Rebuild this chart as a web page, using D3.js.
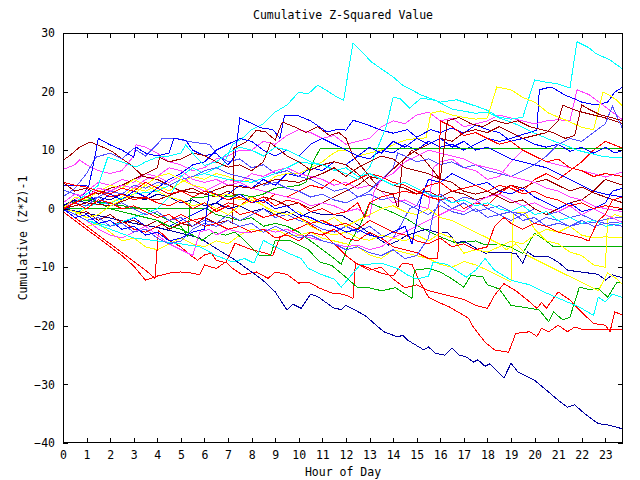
<!DOCTYPE html>
<html><head><meta charset="utf-8">
<script src="https://cdn.jsdelivr.net/npm/d3@7"></script>
<style>body{margin:0;background:#fff}svg{display:block}text{font-family:"DejaVu Sans Mono",monospace;font-size:11.5px;fill:#000}</style>
</head><body><svg id="c" width="640" height="480"></svg>
<script>
// ---- data: each series is [hour, cumulative value] pairs ----
const xTicks = d3.range(0, 24);
const yTicks = [-40, -30, -20, -10, 0, 10, 20, 30];

const rc = [[0,-0.5],[0.5,-2],[1,-3.5],[1.5,-5],[2,-6.5],[2.5,-8],[3,-9.8],[3.5,-12.2],[4,-11.5],[4.5,-11],[5,-10.8],[5.5,-11],[5.8,-11.3],[6,-9.6],[6.5,-10.2],[6.9,-9.1],[7.2,-10.2],[7.6,-11.3],[8.2,-10.8],[8.7,-11.9],[9,-10.8],[9.5,-11.2],[10,-12.7],[10.4,-12.5],[10.9,-13.6],[11.4,-14.4],[11.9,-14.6],[12.3,-15.3],[12.4,-9.3],[12.9,-10],[13.5,-11],[14,-11.5],[14.4,-9.3],[14.8,-9.5],[15.1,-12.2],[15.5,-15.1],[16,-16.1],[16.4,-16.8],[17.2,-18.7],[17.4,-20.2],[17.9,-22.8],[18.3,-24.1],[18.9,-24.5],[19.2,-21.3],[19.8,-21],[20.1,-21.8],[20.3,-20.4],[20.6,-21],[21,-19.9],[21.4,-21],[21.7,-20.2],[22,-20.6],[23.75,-20.6]];
const gm = [[0,0],[6.1,0],[6.5,-1],[7,-1.5],[7.5,-2],[8,-1.5],[8.5,-3],[9,-2.5],[9.5,-3],[10,-4],[10.5,-5.5],[11,-7],[11.5,-8.5],[11.8,-9.5],[12.1,-6.2],[12.6,-2.8],[13,1],[13.3,0.5],[13.9,-0.5],[14.6,-1.8],[15.2,-3.3],[16,-4.8],[16.7,-5.9],[17.5,-5.5],[17.9,-6.2],[18.5,-6],[19,-6.6],[19.5,-7.6],[20,-4.2],[20.5,-5.5],[20.8,-6.5],[23.75,-6.5]];
const b1 = [[0,0],[0.5,-1],[1,-0.5],[1.5,-2],[2,-1],[2.5,-2.5],[3,-1.5],[3.5,-3],[4,-2],[4.5,-3],[5,-2],[5.5,-1],[6,0],[6.5,1],[7,2.5],[7.5,4],[8,3.5],[8.5,5],[9,4],[9.5,6],[10,5.5],[10.5,7],[11,6.5],[11.5,8],[12,7.5],[12.5,9],[13,8.5],[13.5,10],[14,9.5],[14.5,11],[15,10],[15.5,11.5],[16,10.5],[16.5,11],[17,10],[17.5,11],[18,12],[18.5,11.5],[19,12],[19.6,12.8],[20.1,13.4],[20.2,20.3],[20.7,20.8],[21.3,19.4],[22,18.2],[22.6,17.7],[23.1,18.2],[23.4,19.9],[23.75,20.8]];
const m1 = [[0,6.7],[0.5,7.5],[0.7,8.3],[1,7.5],[1.5,6.5],[2,6],[2.5,6.5],[3,9],[3.1,10.9],[3.5,10.5],[4,9.5],[4.5,8],[5,7.5],[5.5,6.5],[6,7],[6.5,8.5],[7,9],[7.5,10],[8,10],[8.5,11.5],[9,11],[9.5,12.5],[10,13.5],[10.5,13],[11,12],[11.5,12.5],[12,11],[12.5,11.5],[13,12],[13.5,14],[14,15],[14.5,14.5],[15,16],[15.5,16.5],[16,15],[16.5,15.5],[17,14],[17.5,14.5],[18,15],[18.5,16],[19,15.5],[19.5,15],[20,14.5],[20.5,15],[21,15.2],[21.5,15],[21.8,20.3],[22.3,19.5],[22.8,18],[23.3,16.5],[23.75,15.1]];
const c1 = [[0,0],[0.5,-1],[1,0.5],[2,1],[3,2.5],[4,3],[5,5],[6,6],[6.8,7.5],[7.2,11],[7.6,12],[8,13.5],[8.5,14.5],[9,16.5],[9.5,17.7],[10,19.9],[10.4,19.6],[10.8,21.1],[11.1,20.4],[11.6,19.1],[11.9,18.5],[12.3,28.3],[13.1,25],[14,22.5],[14.4,21.1],[15.2,19.4],[16,18.2],[16.7,18.6],[17.6,17.4],[18,16.8],[18.5,15.6],[19,15.3],[19.5,15.6],[20,22],[20.5,21.6],[21,21.3],[21.5,20.6],[21.8,28.5],[22.3,27.5],[22.6,26.5],[23.2,25.4],[23.75,23.8]];
const dr1 = [[0,8.3],[0.3,9.1],[0.7,10.5],[1.15,11.4],[1.7,10.5],[2.1,9.7],[2.9,7.4],[3.4,5.5],[4,5],[4.5,4],[5,3],[5.5,3.5],[6,2.5],[6.5,2],[7,3],[7.5,2],[8,1],[8.5,2],[9,1.5],[9.5,0.5],[10,1],[10.5,0],[11,1],[11.5,2],[12,3],[12.5,4],[13,5.5],[13.5,5],[14,4],[14.5,3.5],[15,2.5],[15.5,3],[16,2],[16.5,3],[17,2.5],[17.5,1.5],[18,2],[18.5,3],[19,4],[19.5,3.5],[20,4.5],[20.5,5],[21,4],[21.5,3],[22,3.7],[22.5,2.7],[23,2],[23.75,1]];
const y1 = [[0,0],[0.5,-1],[1,0],[1.5,1.5],[2,1],[2.5,2],[3,3.5],[3.5,3],[4,4],[4.5,3],[5,4.5],[5.5,5.5],[6,5],[6.5,6],[7,5.5],[7.5,4.5],[8,5],[8.5,4],[9,5.5],[9.5,6],[10,6],[10.5,7],[11,8],[11.3,9],[11.7,10],[12,10],[12.5,9],[13,9.5],[13.5,10],[14,10.9],[14.5,11.7],[15,12],[15.4,12.1],[15.6,16.3],[16,16.7],[16.5,16],[17,15.6],[17.5,15.3],[18,15.5],[18.2,18.2],[18.4,20.8],[19,20.3],[19.5,19],[20,18.2],[20.6,16.3],[21.4,15],[22,13.9],[22.5,13.5],[22.9,19.9],[23.2,19.3],[23.5,18.5],[23.75,17.4]];
const nv1 = [[0,0],[1,-0.8],[2,-1.6],[3,-2.5],[4,-3.2],[5,-4.2],[5.8,-5],[6.5,-6.8],[7.2,-8.5],[8,-10.8],[8.5,-12.3],[9,-14.2],[9.5,-17.3],[9.75,-16.3],[10.1,-17],[10.5,-14.6],[10.8,-15],[11.5,-17],[11.8,-17.2],[12,-16.5],[12.8,-18.2],[13.6,-21],[14.2,-21.9],[14.4,-21.6],[14.6,-22.4],[15.3,-24.1],[15.5,-23.6],[15.8,-24.7],[16.2,-25],[16.5,-23.8],[16.8,-25],[17.1,-25.3],[17.4,-26.2],[17.6,-25.8],[17.9,-26.9],[18.1,-26.5],[18.7,-28.9],[19,-26.4],[19.3,-27.9],[20,-29.3],[20.6,-31.3],[21,-32.7],[21.4,-33.9],[21.7,-33.5],[22.1,-34.9],[22.7,-36.7],[23.1,-36.9],[23.75,-37.6]];
const lb1 = [[0,2],[0.5,3.5],[1,6],[1.4,8.8],[2,9.5],[2.5,8.5],[3,10.3],[3.5,9],[4,11],[4.2,12],[4.8,12],[5.3,11.5],[5.8,11.2],[6.2,11],[6.6,9],[7,8],[7.5,8.5],[8,7],[8.5,7.5],[9,6],[9.5,6.5],[10,5.5],[10.5,5],[11,4],[11.5,3],[12,3.5],[12.5,2],[13,2.5],[13.5,1.5],[14,2],[14.5,1],[15,0],[15.5,-1],[16,0.5],[16.5,-0.5],[17,-1],[17.5,0],[18,-1.5],[18.5,-1],[19,-2],[19.5,-1],[20,-2.5],[20.5,-1.5],[21,-2],[21.5,-3],[22,-2.5],[22.5,-2.4],[23,-1.8],[23.75,-1.4]];
const r1 = [[0,0],[0.5,-1],[1,-2],[1.5,-1.5],[2,-3],[2.5,-2],[3,-3.5],[3.5,-4],[4,-3],[4.5,-2],[5,-1],[5.5,-2],[6,-1.5],[6.5,0],[7,1],[7.5,0.5],[8,2],[8.5,1],[9,2.5],[9.5,2],[10,3],[10.5,4],[11,3.5],[11.5,5],[12,4],[12.5,5],[13,6],[13.5,5.5],[14,4.5],[14.5,4],[15,3],[15.5,2],[16,1.5],[16.5,2],[17,0],[17.5,1],[18,0.5],[18.5,2.5],[19,4],[19.5,3],[20,5],[20.5,6],[21,5],[21.5,6.5],[22,8],[22.5,10],[23,11.5],[23.75,10.3]];
const g10 = [[0,0],[0.3,1],[0.8,1.5],[1.5,1.2],[2.5,0.5],[3.5,0],[4,-1],[4.5,-2],[5,-3],[5.3,-4.8],[5.4,1.8],[6,2],[6.5,2.5],[7,2],[7.5,2.5],[8,2],[8.5,2.5],[9,3.5],[9.5,3.7],[10,4],[10.3,4.5],[10.6,8],[10.9,10.2],[23.75,10.2]];
const b2 = [[0,-0.5],[0.3,0.5],[0.8,2],[1.1,4],[1.3,7.8],[1.5,12],[2,10.9],[2.5,10],[3,8.8],[3.1,10.5],[3.5,9.5],[4,9],[4.5,9.5],[4.7,12],[5.2,11.7],[5.5,10],[6,9],[6.5,9.5],[7,7.5],[7.3,9],[7.5,15.5],[8.4,13.8],[8.9,13.5],[9.2,12],[9.4,16],[9.9,16],[10.5,15],[11.2,13.1],[11.7,13.6],[12,13.4],[12.3,15.1],[12.8,14.5],[13.5,13.4],[14,12.9],[14.6,13.5],[15,12.2],[15.6,13.5],[16,13],[16.5,13.8],[17,12.9],[17.5,14.3],[18,13.5],[18.5,13],[19,11.5],[19.5,12],[20,11],[20.5,10.5],[21,11],[21.5,9.8],[22,10.5],[22.5,9.5],[23,10.5],[23.4,9.5],[23.75,10]];
const m2 = [[0,0],[0.5,1.5],[1,3],[1.5,4.5],[2,4],[2.5,5],[3,4.5],[3.5,6],[4,5.5],[4.5,4.5],[5,5.7],[5.5,4],[6,3],[6.5,4],[7,5],[7.5,4.5],[8,6],[8.5,5.5],[9,6.5],[9.5,7],[10,6],[10.5,5.5],[11,5],[11.5,4],[12,4.5],[12.5,3.5],[13,4],[13.5,3],[14,1],[14.5,1.5],[15,0.5],[15.5,0],[15.7,7],[16,8],[16.5,8.5],[17,7],[17.5,6.5],[18,5],[18.5,5.5],[19,8],[19.5,10],[20,9],[20.5,8],[21,7.5],[21.5,7],[22,6.5],[22.5,6],[23,5.4],[23.75,6.3]];
const c2 = [[0,0],[1,-2],[2,-3],[3,-1.5],[4,0],[4.5,2],[5,5.5],[5.5,7],[6,6],[7,5],[8,4.5],[9,6],[10,8],[11,7.5],[12,6],[12.5,5],[13,7],[13.7,13.9],[14,19],[14.3,18.8],[14.7,17.2],[15.2,18.9],[15.8,18.5],[16.5,17],[17.5,16.3],[18,16.5],[18.5,15.5],[19,14.8],[19.5,13.9],[20,12.9],[20.7,11.7],[21.2,11],[21.8,10],[22.3,9.5],[22.8,9],[23.2,8.8],[23.75,8.8]];
const dr2 = [[0,0],[0.5,-1],[1,-0.5],[1.5,-2],[2,-1],[2.5,-2.5],[3,-2],[3.5,-3],[4,-2],[4.5,-3.5],[5,-2.5],[5.5,-3],[6,-1.5],[6.5,-2.5],[7,-2],[7.2,-2.5],[7.25,10.3],[7.8,11.5],[8.2,13.4],[8.6,13.1],[9,11.7],[9.3,14.8],[9.8,14],[10.3,13],[10.8,14],[11.3,12.5],[11.7,13],[12,12],[12.3,9],[12.7,7],[13,5.5],[13.3,4],[13.8,6],[14.2,7.5],[14.6,9],[15,10],[15.5,11],[16,12],[16.5,11.5],[17,13],[17.5,13.5],[18,13],[18.5,14],[19,13],[19.5,12],[20,12.5],[20.5,13],[21,15],[21.2,17.7],[21.6,17],[22,16.5],[22.5,16],[23,15.5],[23.75,14.5]];
const y2 = [[0,0],[0.5,-1.5],[1,-3],[1.5,-2.5],[2,-4],[2.5,-5.5],[3,-5],[3.5,-6.5],[4,-7],[4.5,-6],[5,-5],[5.5,-6],[6,-6.5],[6.5,-5.5],[7,-6],[7.5,-4.5],[8,-3.5],[8.5,-4],[9,-3.5],[9.5,-4.5],[10,-4.5],[10.5,-4],[11,-5],[11.5,-5.5],[12,-6],[12.5,-6.5],[13,-7.9],[13.5,-8.5],[14,-7],[14.5,-7.5],[15,-8],[15.5,-8.5],[16,-9.5],[16.5,-10],[17,-9],[17.5,-9.6],[18,-10.5],[18.5,-11.5],[19,-12.5],[19.1,-0.6],[19.6,-0.6],[20,-3.5],[20.5,-5.5],[21,-6],[21.5,-7.4],[22,-8],[22.5,-9.6],[23,-10],[23.1,-1.9],[23.4,-1],[23.75,-1.5]];
const nv2 = [[0,0.5],[0.5,1.5],[1,1],[1.5,2],[2,1.5],[2.5,2.5],[3,2],[3.5,1.5],[4,2.5],[4.5,2],[5,1],[5.5,1.5],[6,0.5],[6.5,1],[7,0],[7.5,0.5],[8,-0.5],[8.5,0],[9,-1],[9.5,-0.5],[10,-1.5],[10.5,-0.5],[11,-1],[11.8,-1.1],[12.4,-2.5],[13,-4.2],[13.8,-6.2],[14.2,-5.5],[14.6,-4.5],[15.4,-3.5],[16,-4.2],[16.3,-4],[16.7,-5.9],[17,-5.5],[17.4,-6.5],[17.9,-7.6],[18.3,-7.4],[19.2,-7.6],[19.5,-9.3],[19.7,-7.4],[20,-8.2],[20.6,-8.2],[21,-9.1],[21.4,-10.5],[22.7,-11.2],[23,-12.2],[23.3,-11.3],[23.75,-11.8]];
const lb2 = [[0,3.2],[0.5,2.5],[1,1.5],[1.5,2],[2,0.5],[2.5,1],[3,0],[3.5,-1],[4,-0.5],[4.5,-2],[5,-1.5],[5.5,-3],[6,-2],[6.5,-2.5],[7,-1],[7.5,-2],[8,-1],[8.5,0],[9,-1.5],[9.5,-1],[10,-2],[10.5,-2.5],[11,-3.5],[11.5,-4],[12,-3],[12.5,-4],[13,-3],[13.5,-4.5],[14,-5],[14.3,-3],[14.7,0],[15,0.5],[15.3,3],[15.7,2],[16,2.5],[16.5,1],[17,2],[17.5,1.5],[18,0],[18.5,0.5],[19,-0.5],[19.5,-1],[20,0],[20.5,-1],[21,-0.5],[21.5,-1.5],[22,-1],[22.5,-2],[23,-2.5],[23.75,-2.2]];
const rd = [[0,0],[0.5,-1.5],[1,-3],[1.5,-4.5],[2,-6],[2.5,-7.5],[3,-9],[3.5,-10.5],[3.9,-11.9],[4.05,-3.7],[4.5,-5.4],[5,-6.5],[5.3,-7.6],[5.7,-8.8],[6,-7.9],[6.3,-7.6],[6.5,-8.8],[6.9,-9.2],[7.3,-5.9],[8,-7],[8.5,-7.5],[8.9,-8],[9.2,-4.9],[9.6,-4],[10.1,-3.1],[10.4,-2.5],[11,-4],[11.5,-6],[12,-8],[12.5,-9.5],[13,-10.5],[13.5,-10],[14,-12],[14.5,-13.5],[15,-13],[15.5,-14],[16,-14.5],[17,-15.5],[17.5,-16.5],[18,-17],[18.3,-14.8],[18.7,-12.8],[19.2,-14],[19.7,-15.6],[20.1,-17],[20.3,-16],[20.5,-17],[21,-14.2],[21.5,-15.6],[21.9,-17.3],[22.5,-19.6],[23,-19.9],[23.2,-21],[23.4,-17.6],[23.75,-18.2]];
const gl = [[0,0],[0.5,1],[1,2],[1.5,1],[2,0],[2.5,-0.5],[3,-1],[3.5,-1.5],[4,-2],[4.5,-3],[5,-3.5],[5.5,-4.5],[5.9,-5.4],[6.4,-4],[6.9,-4.5],[7.3,-4],[7.7,-5.4],[8.3,-7.9],[8.8,-8],[9,-5.4],[9.6,-5.4],[10.4,-7],[10.9,-9.1],[11.4,-9.7],[12,-11.7],[12.5,-13.5],[13,-13.5],[13.5,-14],[14.1,-13.5],[14.8,-15.3],[14.9,-10.5],[15.5,-10.2],[16,-10.8],[16.5,-12],[17,-13.4],[17.3,-11.4],[17.8,-11.6],[18,-13],[18.5,-13.7],[19,-16.5],[19.8,-17],[20.2,-17.3],[20.6,-19.3],[20.8,-17.6],[21.2,-19],[21.5,-18.5],[21.9,-13.4],[22.3,-13.8],[22.7,-13.6],[23.1,-15.1],[23.5,-12.5],[23.75,-12.8]];
const b3 = [[0,4],[1,4],[1.2,2],[1.5,1],[2,2.5],[2.5,1.5],[3,3],[3.5,2],[4,3.5],[4.5,5],[5,6],[5.5,7.5],[6,8],[6.5,10],[7,11],[7.5,12],[8,11.5],[8.5,10],[9,9],[9.5,10],[10,9],[10.5,11],[11,12],[11.5,11],[12,10],[12.5,9],[13,10.5],[13.5,9.5],[14,11.5],[14.5,10.5],[15,12],[15.5,11],[16,12],[16.5,10.5],[17,11.5],[17.5,10],[18,10.5],[18.5,9.5],[19,8.5],[19.5,8],[20,7.5],[20.5,7],[21,6],[21.5,5],[22,4],[22.5,3],[23,2.5],[23.75,2]];
const m3 = [[0,0],[0.5,-1],[1,-2],[1.5,-3.5],[2,-4.5],[2.5,-5],[3,-4],[3.5,-3],[4,-4.5],[4.5,-6],[5,-7],[5.5,-8],[5.8,-4],[6.2,-3.5],[6.5,-4.5],[7,-3.5],[7.5,-4],[8,-4],[8.5,-3.5],[9,-4],[9.5,-3.5],[10,-4.5],[10.5,-5],[11,-5.5],[11.5,-6],[12,-6.5],[12.5,-6.2],[13,-7],[13.5,-6.5],[14,-5],[14.5,-4],[15,-3],[15.5,-2],[16,-1],[16.5,0],[17,-0.5],[17.5,1],[18,2],[18.5,2.5],[19,1.5],[19.5,0.5],[20,1],[20.5,0],[21,-0.5],[21.5,0.5],[22,-1],[22.5,0],[23,-1],[23.75,-2.4]];
const c3 = [[0,0],[1,-2],[2,-3.5],[3,-5],[4,-5.5],[5,-6],[5.8,-6.5],[6.5,-8],[7.2,-9.1],[7.7,-8.5],[8.1,-9.3],[8.5,-5.4],[9,-6.5],[9.5,-7.5],[10.1,-8.5],[10.4,-10.2],[11,-11.3],[11.5,-12],[11.8,-13.4],[12.6,-9.6],[13.5,-9.3],[14.2,-10.2],[14.6,-11.3],[15,-12],[15.5,-11.5],[15.7,-9.1],[16.3,-9.5],[17.1,-11.7],[17.5,-10.5],[17.9,-8.5],[18.3,-10.5],[19,-12.2],[19.8,-13],[20.5,-14.4],[21.2,-15.6],[21.9,-16.8],[22.5,-18.2],[22.7,-15.1],[23,-15.9],[23.3,-14.6],[23.75,-15.2]];
const dr3 = [[0,4.5],[0.5,3],[1,3.5],[1.5,2.5],[2,3.5],[2.5,4],[3,5],[3.5,6],[4,7],[4.1,8.8],[4.5,8],[5,8.5],[5.5,9.5],[6,9.1],[6.5,8],[7,7.1],[7.5,7.5],[8,6.5],[8.5,8],[8.8,11.2],[9.2,10],[9.5,9],[10,8],[10.5,6.6],[11,7.5],[11.5,8],[12,7.5],[12.5,6],[13,4],[13.5,3],[14,2.5],[14.2,0],[14.4,8],[14.8,10],[15.2,9],[15.6,7],[16,5],[16.5,4.5],[17,3],[17.5,2.5],[18,3],[18.5,2],[19,1],[19.5,1.5],[20,0],[20.5,-1],[21,0],[21.5,1],[22,1.5],[22.5,3],[23,5],[23.75,4]];
const y3 = [[0,0],[0.5,2],[1,1.5],[1.5,3],[2,4],[2.5,3.5],[3,5],[3.5,4],[4,3],[4.5,2],[5,1.5],[5.5,0.5],[6,1],[6.5,0],[7,-1],[7.5,0.5],[8,1.5],[8.5,0.5],[9,-1],[9.5,-2],[10,-1.5],[10.5,-3],[11,-4],[11.5,-4.5],[12,-4],[12.5,-5],[13,-5.4],[13.5,-4.5],[14,-5],[14.5,-5.5],[15,-4.5],[15.5,-5.5],[16,-4.2],[16.5,-5],[17,-7.6],[17.5,-7],[18,-7.4],[18.5,-6.5],[19,-5.5],[19.5,-6],[20,-4.5],[20.5,-3.5],[21,-4],[21.5,-3],[22,-4.5],[22.5,-5],[23,-4.8],[23.75,-5]];
const lb3 = [[0,0],[0.5,1],[1,0.5],[1.5,2],[2,3],[2.5,2.5],[3,4],[3.5,3.5],[4,4.5],[4.5,4],[5,5],[5.5,5.5],[6,6.5],[6.5,7],[7,6],[7.5,5.5],[8,5],[8.5,4],[9,4.5],[9.5,3.5],[10,3],[10.5,2],[11,2.5],[11.5,1.5],[12,1],[12.5,2],[13,3],[13.5,5],[14,7],[14.2,9.5],[14.5,9],[15,8],[15.5,8.5],[16,7.5],[16.5,8],[17,7],[17.5,7.5],[18,6.5],[18.5,6],[19,5.5],[19.5,6.5],[20,7.5],[20.5,9],[21,11],[21.5,12],[22,11.5],[22.5,13],[23,14.5],[23.3,17.5],[23.75,13.5]];
const r2 = [[0,0],[0.5,1],[1,0],[1.5,1.5],[2,1],[2.5,0],[3,0.5],[3.5,-0.5],[4,-1.5],[4.5,-1],[5,-2.5],[5.5,-2],[6,-3],[6.5,-2.5],[7,-3.5],[7.5,-3],[8,-4],[8.5,-3.5],[9,-5],[9.5,-4.5],[10,-5.5],[10.5,-4],[11,-4.5],[11.5,-3.5],[12,-5],[12.5,-5.5],[13,-4],[13.5,-5],[14,-6.5],[14.5,-7],[15,-7.5],[15.5,-8.5],[15.9,-8.5],[16,15],[16.5,14],[17,12.5],[17.5,13],[18,12],[18.5,11],[19,11.5],[19.5,10],[20,9],[20.5,8],[21,8.5],[21.5,7],[22,6.5],[22.5,5.5],[23,6],[23.75,5.5]];
const m4 = [[0,1],[0.5,2.5],[1,2],[1.5,3.5],[2,3],[2.5,4],[3,3.5],[3.5,5],[4,5.5],[4.5,7],[5,6.5],[5.5,5],[6,4.5],[6.5,5],[7,4],[7.5,4.5],[8,3.5],[8.5,3],[9,2.5],[9.5,2],[10,1.5],[10.5,0.5],[11,1],[11.5,0.5],[12,-0.5],[12.5,0],[13,-1.5],[13.2,3],[13.5,5],[14,6],[14.5,8],[15,9],[15.5,10],[16,9.5],[16.5,9],[17,8.5],[17.5,7.5],[18,7],[18.5,6.5],[19,5.5],[19.5,5],[20,4.5],[20.5,3.5],[21,3],[21.5,2],[22,1.5],[22.5,0.5],[23,0],[23.75,-0.5]];
const c4 = [[0,0],[0.5,1],[1,2.5],[1.5,4],[1.9,8.8],[2.5,8],[3.1,7.1],[3.5,8],[4,8.8],[4.5,9],[5,9.5],[5.2,10.9],[5.6,9],[6,7.4],[6.5,8],[7,9.5],[7.5,10.5],[8,10],[8.5,9],[9,10.5],[9.5,10],[10,9],[10.5,8],[11,7.5],[11.5,6.5],[12,7],[12.5,5.5],[13,6],[13.5,5],[14,4],[14.5,4.5],[15,3.5],[15.5,2.5],[16,2],[16.5,1],[17,1.5],[17.5,0.5],[18,1],[18.5,0],[19,-0.5],[19.5,0.5],[20,-1],[20.5,-0.5],[21,-2],[21.5,-1.5],[22,-2.5],[22.5,-2],[23,-3],[23.75,-2.5]];
const dr4 = [[0,0],[1,1],[2,0.5],[3,2],[4,1.5],[5,3],[6,2.5],[7,4],[8,3.5],[9,5],[10,4.5],[11,6],[11.5,7],[12,5.5],[12.5,7],[13,8],[13.5,9],[14,8.5],[14.5,7],[15,6.5],[15.5,6],[16,5],[16.3,15],[16.8,15.6],[17.3,14.5],[17.8,14],[18.3,15.1],[18.8,14.5],[19.3,15],[19.8,14],[20.3,13.5],[20.8,13],[21.3,12],[21.7,12.5],[22,17.7],[22.3,17],[22.8,16],[23.3,15.5],[23.75,15]];
const y4 = [[0,0],[0.5,-0.5],[1,-1.5],[1.5,-1],[2,0.5],[2.5,1.5],[3,2.5],[3.5,4],[4,5.5],[4.5,6],[5,5],[5.5,4],[6,3.5],[6.5,2],[7,2.5],[7.5,1.5],[8,2],[8.5,0.5],[9,-0.5],[9.5,-1],[10,-0.5],[10.5,-2],[11,-2.5],[11.5,-1.5],[12,-3],[12.5,-2],[13,-1],[13.5,0],[14,0.5],[14.5,-0.5],[15,-1],[15.5,0],[16,-1.5],[16.5,-2],[17,-3],[17.5,-4],[18,-5],[18.5,-6],[18.8,-7],[19.2,-6],[19.7,-8],[20.2,-9],[20.7,-10],[21.2,-11],[21.7,-12],[22.2,-13],[22.7,-14],[23.1,-11],[23.5,-12],[23.75,-13]];
const lb4 = [[0,0],[0.5,-1],[1,-2],[1.5,-1.5],[2,-3],[2.5,-2.5],[3,-4],[3.5,-3.5],[4,-5],[4.5,-6],[5,-5.5],[5.5,-3.5],[6,-2.5],[6.5,-3],[7,-2],[7.5,-3],[8,-2.5],[8.5,-4],[9,-3],[9.5,-4],[10,-5],[10.5,-4.5],[11,-5.5],[11.5,-6],[12,-7],[12.5,-6.5],[13,-7.5],[13.5,-8],[14,-7],[14.5,-8.5],[15,-8],[15.5,-5],[15.7,-1],[16,1.5],[16.5,0],[17,1],[17.5,-0.5],[18,0],[18.5,-1],[19,-0.5],[19.5,-2],[20,-1.5],[20.5,-3],[21,-2.5],[21.5,-3],[22,-2],[22.5,-3],[23,-2.5],[23.75,-3]];
const r3 = [[0,4.5],[0.5,4],[1,3.7],[1.5,3],[2,2],[2.5,2.5],[3,1.5],[3.5,2],[4,1],[4.5,0.5],[5,1.5],[5.5,0],[6,1],[6.5,-0.5],[7,0.5],[7.5,-1],[8,-0.5],[8.5,-1.5],[9,-1],[9.5,-2],[10,-1.5],[10.5,-2.5],[11,-2],[11.5,-3],[12,-2.5],[12.5,-3.5],[13,-2],[13.5,-3],[14,-4],[14.5,-4.5],[15,-5.5],[15.5,-6],[16,-5],[16.5,-6.5],[17,-6],[17.5,-7],[18,-6.5],[18.3,-3],[18.7,-1.5],[19,-2.5],[19.5,-3.5],[20,-2.5],[20.5,-3],[21,-4],[21.5,-4.5],[22,-5],[22.3,-5.5],[22.7,-2],[23,-1],[23.3,1.5],[23.75,2]];
const b4 = [[0,0],[0.5,-1.5],[1,-1],[1.5,-2.5],[2,-2],[2.5,-3.5],[3,-3],[3.5,-4.5],[4,-4],[4.5,-5.5],[5,-5],[5.5,-4],[6,-3.5],[6.2,3],[6.7,2],[7,1.5],[7.5,2.5],[8,1],[8.5,1.5],[9,0],[9.5,0.5],[10,-1],[10.5,-1.5],[11,-2.5],[11.5,-3],[12,-4],[12.5,-3.5],[13,-4.5],[13.5,-5],[14,-4],[14.5,-3],[14.8,-6],[15.2,2],[15.5,5],[16,4.5],[16.5,6],[17,5],[17.5,4],[18,4.5],[18.5,3],[19,2.5],[19.5,3.5],[20,2],[20.5,1],[21,0],[21.5,1],[22,-0.5],[22.5,0],[23,1],[23.3,3],[23.75,3.5]];
const r4 = [[0,0],[0.5,1],[1,2],[1.5,3],[2,2.5],[2.5,3.5],[3,3],[3.5,4.5],[4,3.5],[4.5,2.5],[5,3],[5.5,2],[6,3],[6.5,2.5],[7,1.5],[7.5,2],[8,1],[8.5,2],[9,0.5],[9.5,1.5],[10,1],[10.5,-0.5],[11,0],[11.5,-1],[12,-0.5],[12.5,1],[12.8,-1.5],[13,1],[13.5,2],[14,2.5],[14.5,3],[15,2.5],[15.5,4],[16,4.5],[16.5,3],[17,3.5],[17.5,4],[18,3],[18.5,4],[19,3.5],[19.5,2.5],[20,3],[20.5,2],[21,1.5],[21.5,0.5],[22,1],[22.5,0],[23,0.5],[23.75,0]];

// draw order and colours
const seriesData = [rc, gm, b1, m1, c1, dr1, y1, nv1, lb1, r1, g10, b2, m2, c2, dr2, y2, nv2, lb2, rd, gl, b3, m3, c3, dr3, y3, lb3, r2, m4, c4, dr4, y4, lb4, r3, b4, r4];
const palette = {r:"#ff0000", g:"#00b000", b:"#0000ff", m:"#ff40ff", c:"#00ffff", dr:"#a00000", y:"#ffff00", nv:"#0000a0", lb:"#5050ff"};
const seriesColor = ["r","g","b","m","c","dr","y","nv","lb","r","g","b","m","c","dr","y","nv","lb","r","g","b","m","c","dr","y","lb","r","m","c","dr","y","lb","r","b","r"];

// ---- drawing ----
const svg = d3.select("#c");
const L = 63, R = 623, T = 33, B = 443;
const x = d3.scaleLinear().domain([0, 23.75]).range([L, R]);
const y = d3.scaleLinear().domain([-40, 30]).range([B, T]);

svg.append("rect").attr("width", 640).attr("height", 480).attr("fill", "#fff");

svg.append("defs").append("clipPath").attr("id", "clip")
  .append("rect").attr("x", L).attr("y", T).attr("width", R - L).attr("height", B - T);

const line = d3.line().x(d => x(d[0])).y(d => y(d[1]));
const g = svg.append("g").attr("clip-path", "url(#clip)");
seriesData.forEach((s, i) => {
  g.append("path").attr("d", line(s)).attr("fill", "none")
    .attr("stroke", palette[seriesColor[i]]).attr("stroke-width", 1)
    .attr("shape-rendering", "crispEdges");
});

function styleAxis(sel) {
  sel.select(".domain").remove();
  sel.selectAll(".tick line").attr("stroke", "#000").attr("shape-rendering", "crispEdges");
  sel.selectAll("text").attr("font-family", "DejaVu Sans Mono, monospace").attr("font-size", 11.5).attr("fill", "#000");
}
svg.append("g").attr("transform", `translate(0,${B})`)
  .call(d3.axisBottom(x).tickValues(xTicks).tickSize(-5).tickPadding(8).tickFormat(d3.format("d"))).call(styleAxis);
svg.append("g").attr("transform", `translate(0,${T})`)
  .call(d3.axisTop(x).tickValues(xTicks).tickSize(-5).tickFormat("")).call(styleAxis);
svg.append("g").attr("transform", `translate(${L},0)`)
  .call(d3.axisLeft(y).tickValues(yTicks).tickSize(-5).tickPadding(8).tickFormat(d3.format("d"))).call(styleAxis);
svg.append("g").attr("transform", `translate(${R},0)`)
  .call(d3.axisRight(y).tickValues(yTicks).tickSize(-5).tickFormat("")).call(styleAxis);

svg.append("rect").attr("x", L + 0.5).attr("y", T + 0.5).attr("width", R - L - 1).attr("height", B - T - 1)
  .attr("fill", "none").attr("stroke", "#000").attr("stroke-width", 1);

svg.append("text").attr("x", 343).attr("y", 19).attr("text-anchor", "middle").text("Cumulative Z-Squared Value");
svg.append("text").attr("x", 343).attr("y", 476).attr("text-anchor", "middle").text("Hour of Day");
svg.append("text").attr("transform", "translate(27,238) rotate(-90)").attr("text-anchor", "middle").text("Cumulative (Z*Z)-1");
</script></body></html>
